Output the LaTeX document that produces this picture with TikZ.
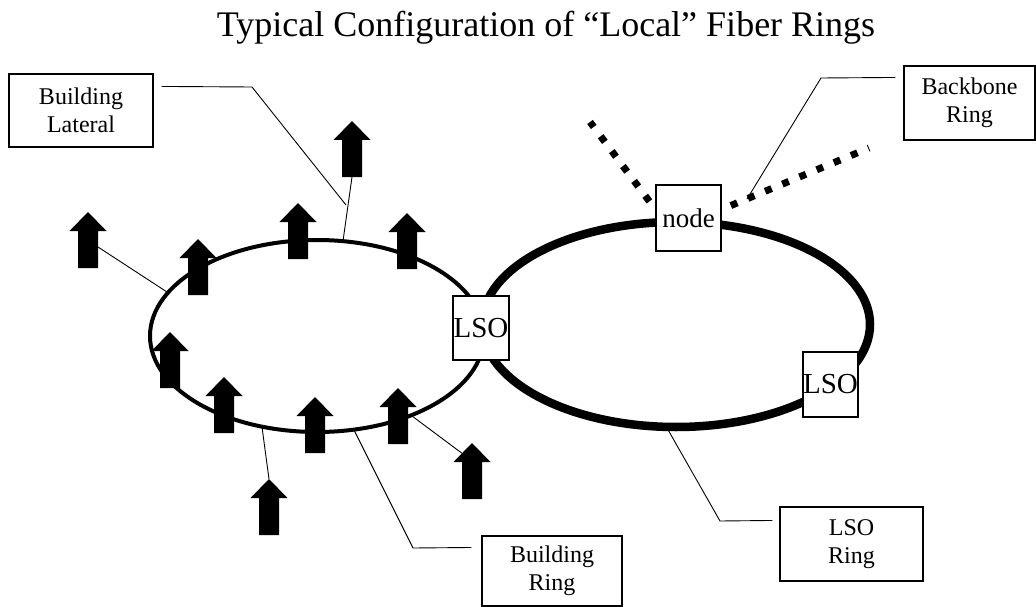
\documentclass[tikz,border=0pt]{standalone}
\usepackage{fontspec}
\setmainfont{Liberation Serif}
\usepackage{tikz}
\usetikzlibrary{calc}
\tikzstyle{callout} = [rectangle, draw=black, line width=1.2pt, fill=white, align=center, inner sep=0pt, font=\fontsize{24}{28}\selectfont]
\tikzstyle{site} = [rectangle, draw=black, line width=1.2pt, fill=white, inner sep=0pt, font=\fontsize{27}{30}\selectfont]
\tikzstyle{leader} = [black, line width=0.9pt]
\tikzstyle{fiber} = [black, dash pattern=on 7pt off 11.6pt, dash phase=8.6pt, line width=7pt]
\tikzset{bldg/.pic={
  \fill[black] (-10,56) -- (-10,19) -- (-18.5,19) -- (0,0) -- (18.5,19) -- (10,19) -- (10,56) -- cycle;
  \coordinate (-tip) at (0,0);
  \coordinate (-foot) at (0,56);
  \coordinate (-side) at (10,35);
  \coordinate (-slope) at (-10,10.3);
}}

\begin{document}
\begin{tikzpicture}[x=1pt, y=-1pt]
\useasboundingbox (0,0) rectangle (1036,607);

\node (title) [anchor=base, font=\fontsize{36}{40}\selectfont] at (546,37) {Typical Configuration of “Local” Fiber Rings};

% the two rings
\draw [line width=4pt] (317,336) ellipse [x radius=167pt, y radius=96pt];
\draw [line width=8.5pt] (676,324.5) ellipse [x radius=194pt, y radius=102.5pt];

% points on the rings and bends of the leaders
\coordinate (tapA) at (343,241);
\coordinate (tapB) at (167,292);
\coordinate (tapC) at (262,427);
\coordinate (tapD) at (412,416);
\coordinate (latmid) at (346,205);
\coordinate (bendBL) at (252,87);
\coordinate (tapBR) at (354,430);
\coordinate (bendBR) at (413,548);
\coordinate (tapLR) at (667,428);
\coordinate (bendLR) at (720,521);
\coordinate (tapBB) at (747,199);
\coordinate (bendBB) at (821,78);
\coordinate (bbL) at (590,122);
\coordinate (bbR) at (869,148);

% buildings
\pic (a1) at (352,121) {bldg};
\pic (a2) at (88,212) {bldg};
\pic (a3) at (198,239) {bldg};
\pic (a4) at (298,203) {bldg};
\pic (a5) at (407,213) {bldg};
\pic (a6) at (170,332) {bldg};
\pic (a7) at (224,377) {bldg};
\pic (a8) at (315,397) {bldg};
\pic (a9) at (398,388) {bldg};
\pic (a10) at (472,443) {bldg};
\pic (a11) at (269,479) {bldg};

% laterals
\draw [leader] (tapA) -- (a1-foot);
\draw [leader] (tapB) -- (a2-side);
\draw [leader] (tapC) -- (a11-tip);
\draw [leader] (tapD) -- (a10-slope);

% offices on the rings
\node (nodebox) [site, minimum width=65pt, minimum height=66pt] at (688.5,218) {node};
\node (lsoA) [site, minimum width=56pt, minimum height=64pt, font=\fontsize{29}{30}\selectfont] at (481,328) {LSO};
\node (lsoB) [site, minimum width=55pt, minimum height=65pt, font=\fontsize{29}{30}\selectfont] at (830.5,384.5) {LSO};

% backbone
\draw [fiber] ($(nodebox.north west)+(0,25)$) -- (bbL);
\draw [fiber] ($(nodebox.north east)+(0,25)$) -- (bbR);

% callouts
\node (lateraltag) [callout, minimum width=144pt, minimum height=73pt] at (81,110.5) {Building\\Lateral};
\node (backbonetag) [callout, minimum width=131pt, minimum height=74pt] at (969.5,103) {Backbone\\Ring};
\node (lsoringtag) [callout, minimum width=143pt, minimum height=74pt] at (851.5,544) {LSO\\Ring};
\node (bldgringtag) [callout, minimum width=140pt, minimum height=70pt] at (552,571) {Building\\Ring};

\draw [leader, shorten <=8pt] ($(lateraltag.north east)+(0,13)$) -- (bendBL) -- (latmid);
\draw [leader, shorten >=8pt] (tapBB) -- (bendBB) -- ($(backbonetag.north west)+(0,12)$);
\draw [leader, shorten >=7pt] (tapLR) -- (bendLR) -- ($(lsoringtag.north west)+(0,14)$);
\draw [leader, shorten >=10pt] (tapBR) -- (bendBR) -- ($(bldgringtag.north west)+(0,12)$);

\end{tikzpicture}
\end{document}
